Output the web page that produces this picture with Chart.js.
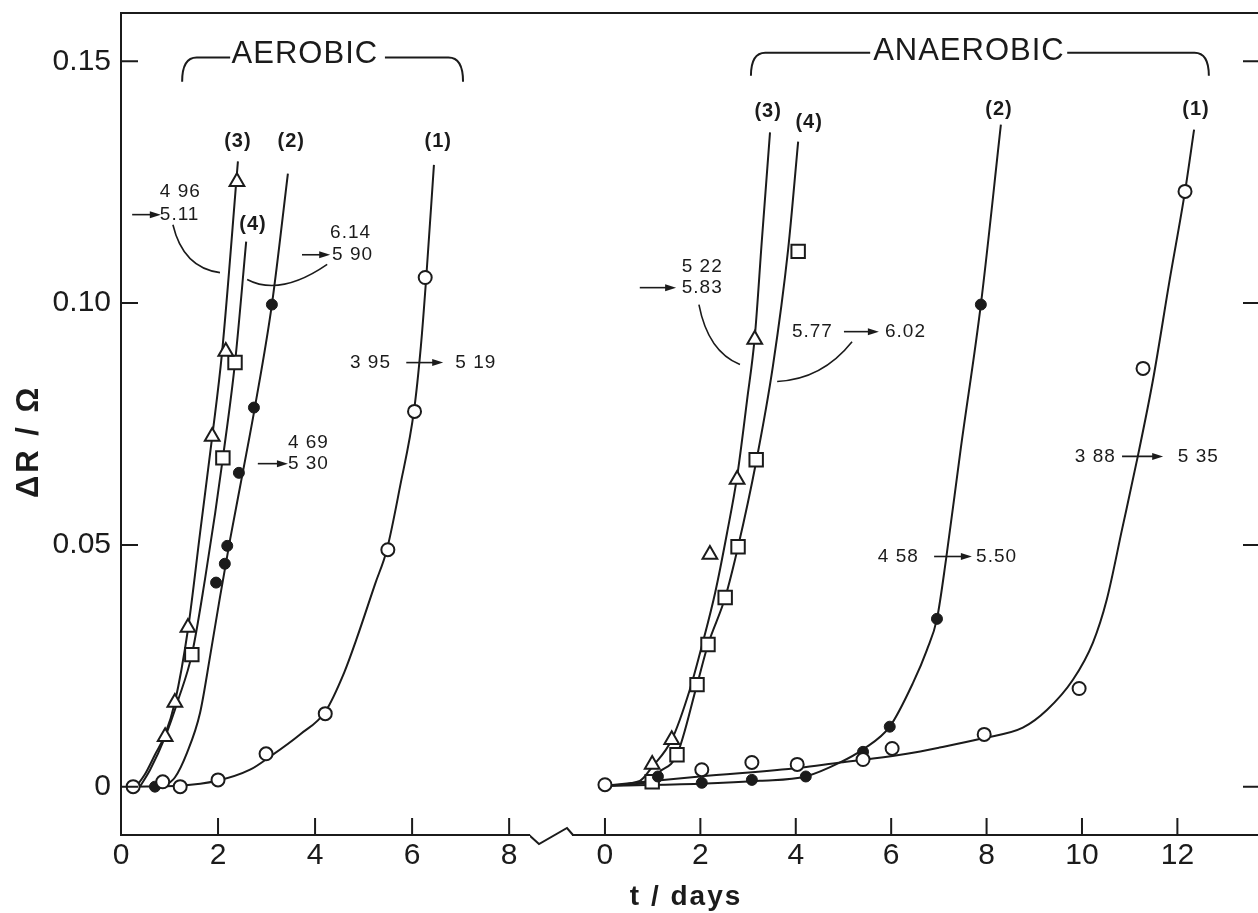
<!DOCTYPE html>
<html>
<head>
<meta charset="utf-8">
<title>ΔR / Ω against t / days</title>
<script src="https://cdn.jsdelivr.net/npm/chart.js@4.4.1/dist/chart.umd.min.js"></script>
<style>
  html, body { margin: 0; padding: 0; background: #fff; }
  #page { position: relative; width: 1258px; height: 913px; overflow: hidden; background: #fff; }
  canvas { position: absolute; top: 0; }
  #aero { left: 0; }
  #anaero { left: 530px; }
</style>
</head>
<body>
<div id="page">
  <canvas id="aero" width="530" height="913"></canvas>
  <canvas id="anaero" width="728" height="913"></canvas>
</div>
<script>
// axis ticks
var yTicks = [0, 0.05, 0.10, 0.15];
var yTickLabels = ['0', '0.05', '0.10', '0.15'];
var aeroTicksX = [0, 2, 4, 6, 8];
var anaeroTicksX = [0, 2, 4, 6, 8, 10, 12];

// aerobic: measured points [days, dR] and drawn curves
var aero1Pts = [[0.25, 0], [0.86, 0.001], [1.22, 0], [2.0, 0.0014], [2.99, 0.0068], [4.21, 0.0151], [5.50, 0.049], [6.05, 0.0776], [6.27, 0.1053]];
var aero1Fit = [[0.25, 0], [1.22, 0.0002], [1.98, 0.0012], [2.66, 0.0035], [3.07, 0.0062], [3.69, 0.0108], [4.21, 0.0155], [4.60, 0.0236], [4.85, 0.0304], [5.24, 0.042], [5.48, 0.049], [5.75, 0.062], [6.04, 0.0778], [6.18, 0.091], [6.29, 0.1051], [6.45, 0.1286]];
var aero2Pts = [[0.70, 0], [1.96, 0.0422], [2.14, 0.0461], [2.19, 0.0498], [2.43, 0.0649], [2.74, 0.0784], [3.11, 0.0997]];
var aero2Fit = [[0.60, 0], [0.91, 0.0004], [1.11, 0.0019], [1.36, 0.007], [1.63, 0.0153], [1.84, 0.0272], [2.04, 0.0392], [2.25, 0.0512], [2.52, 0.0655], [2.76, 0.0785], [3.11, 0.0997], [3.44, 0.1268]];
var aero3Pts = [[0.91, 0.0103], [1.11, 0.0174], [1.38, 0.0329], [1.88, 0.0724], [2.16, 0.09], [2.39, 0.1251]];
var aero3Fit = [[0.31, 0], [0.49, 0.0025], [0.70, 0.0066], [0.91, 0.0108], [1.11, 0.0174], [1.38, 0.0325], [1.63, 0.0525], [1.88, 0.0724], [2.08, 0.0895], [2.41, 0.1293]];
var aero4Pts = [[1.46, 0.0273], [2.10, 0.068], [2.35, 0.0877]];
var aero4Fit = [[0.39, 0], [0.60, 0.0035], [0.91, 0.0103], [1.18, 0.018], [1.46, 0.0273], [1.73, 0.0428], [1.94, 0.0565], [2.10, 0.068], [2.35, 0.0877], [2.58, 0.1127]];

// anaerobic
var anaero1Pts = [[0, 0.0004], [2.03, 0.0035], [3.08, 0.005], [4.03, 0.0046], [5.41, 0.0056], [6.02, 0.0079], [7.95, 0.0108], [9.94, 0.0203], [11.28, 0.0865], [12.16, 0.1231]];
var anaero1Fit = [[0, 0.0002], [1.99, 0.0021], [4.09, 0.0039], [4.93, 0.005], [5.62, 0.0058], [6.33, 0.0068], [7.02, 0.0081], [7.92, 0.01], [8.76, 0.0122], [9.27, 0.0159], [9.81, 0.0221], [10.23, 0.0298], [10.52, 0.0387], [10.84, 0.0532], [11.17, 0.0683], [11.49, 0.0842], [11.84, 0.1049], [12.16, 0.1231], [12.35, 0.1359]];
var anaero2Pts = [[1.11, 0.0021], [2.03, 0.0008], [3.08, 0.0014], [4.21, 0.0021], [5.41, 0.0072], [5.97, 0.0124], [6.96, 0.0347], [7.88, 0.0997]];
var anaero2Fit = [[0, 0.0002], [1.99, 0.0006], [3.25, 0.0012], [4.21, 0.0021], [4.93, 0.005], [5.41, 0.0077], [5.97, 0.0124], [6.46, 0.0215], [6.75, 0.0283], [6.96, 0.0347], [7.15, 0.047], [7.46, 0.070], [7.88, 0.0997], [8.30, 0.1369]];
var anaero3Pts = [[0.99, 0.0046], [1.40, 0.0097], [2.20, 0.048], [2.77, 0.0635], [3.14, 0.0925]];
var anaero3Fit = [[0, 0.0002], [0.73, 0.0012], [0.99, 0.0041], [1.40, 0.0097], [1.78, 0.0201], [2.05, 0.0298], [2.31, 0.0401], [2.56, 0.0525], [2.77, 0.0641], [2.98, 0.08], [3.14, 0.0929], [3.29, 0.1131], [3.46, 0.1353]];
var anaero4Pts = [[0.99, 0.001], [1.51, 0.0066], [1.93, 0.0211], [2.16, 0.0294], [2.52, 0.0391], [2.79, 0.0496], [3.17, 0.0676], [4.05, 0.1107]];
var anaero4Fit = [[0, 0.0002], [0.84, 0.0008], [1.15, 0.0031], [1.51, 0.0066], [1.93, 0.0211], [2.16, 0.0294], [2.52, 0.0391], [2.79, 0.0496], [3.17, 0.0672], [3.52, 0.0869], [3.84, 0.1111], [4.05, 0.1334]];

var INK = '#1b1b1b';
var FONT = '"Liberation Sans", Arial, sans-serif';
var TICK_LEN = 17;
var AXIS_H = 78;

Chart.defaults.font.family = FONT;
Chart.defaults.color = INK;

var MARK = {
  ring: { pointStyle: 'circle', pointRadius: 6.5, pointBackgroundColor: '#fff', pointBorderColor: INK, pointBorderWidth: 2 },
  dot: { pointStyle: 'circle', pointRadius: 5.5, pointBackgroundColor: INK, pointBorderColor: INK, pointBorderWidth: 1 },
  tri: { pointStyle: 'triangle', pointRadius: 8.5, pointBackgroundColor: '#fff', pointBorderColor: INK, pointBorderWidth: 2 },
  box: { pointStyle: 'rect', pointRadius: 9.5, pointBackgroundColor: '#fff', pointBorderColor: INK, pointBorderWidth: 2 },
};

function toXY(pairs) {
  return pairs.map(function (p) { return { x: p[0], y: p[1] }; });
}

function seriesPair(fit, pts, mark) {
  var markers = Object.assign({ data: toXY(pts), showLine: false, order: 0 }, mark);
  var curve = {
    data: toXY(fit),
    showLine: true,
    pointRadius: 0,
    borderColor: INK,
    borderWidth: 2,
    fill: false,
    cubicInterpolationMode: 'monotone',
    order: 1,
  };
  return [markers, curve];
}

function xScale(min, max, ticks) {
  return {
    type: 'linear',
    min: min,
    max: max,
    afterBuildTicks: function (s) { s.ticks = ticks.map(function (v) { return { value: v }; }); },
    afterFit: function (s) {
      s.height = AXIS_H;
      s.paddingLeft = 0;
      s.paddingRight = 0;
    },
    grid: { display: false, drawTicks: false },
    border: { display: true, color: INK, width: 2 },
    ticks: { color: INK, font: { size: 30 }, padding: 3, maxRotation: 0, autoSkip: false,
      callback: function (v) { return String(v); } },
  };
}

function yScale(show) {
  return {
    type: 'linear',
    min: -0.01,
    max: 0.16,
    display: show,
    afterBuildTicks: function (s) { s.ticks = yTicks.map(function (v) { return { value: v }; }); },
    afterFit: function (s) {
      s.width = show ? 121 : 0;
      s.paddingTop = 0;
      s.paddingBottom = 0;
    },
    grid: { display: false, drawTicks: false },
    border: { display: true, color: INK, width: 2 },
    ticks: { color: INK, font: { size: 30 }, padding: 10,
      callback: function (v, i) { return yTickLabels[i]; } },
  };
}

// frame, inward ticks and the axis break
var framePlugin = {
  id: 'frame',
  afterDraw: function (chart, args, opts) {
    var ctx = chart.ctx, a = chart.chartArea, x = chart.scales.x, y = chart.scales.y;
    ctx.save();
    ctx.strokeStyle = INK;
    ctx.lineWidth = 2;
    ctx.beginPath();
    ctx.moveTo(a.left - (opts.topFrom || 0), a.top);
    ctx.lineTo(a.right, a.top);
    opts.xTicks.forEach(function (v) {
      var p = x.getPixelForValue(v);
      ctx.moveTo(p, a.bottom);
      ctx.lineTo(p, a.bottom - TICK_LEN);
    });
    var left = opts.ySide === 'left';
    var edge = left ? a.left : a.right;
    var len = left ? TICK_LEN : -15;
    yTicks.forEach(function (v) {
      var p = y.getPixelForValue(v);
      ctx.moveTo(edge, p);
      ctx.lineTo(edge + len, p);
    });
    if (opts.axisBreak) {
      ctx.moveTo(a.left - 44, a.bottom);
      ctx.lineTo(a.left - 34, a.bottom + 9);
      ctx.lineTo(a.left - 6, a.bottom - 7);
      ctx.lineTo(a.left, a.bottom);
    }
    ctx.stroke();
    ctx.restore();
  },
};

function arrowHead(ctx, x, y) {
  ctx.beginPath();
  ctx.moveTo(x + 2, y);
  ctx.lineTo(x - 9, y - 3.5);
  ctx.lineTo(x - 9, y + 3.5);
  ctx.closePath();
  ctx.fill();
}

// labels, pH arrows and leader curves
var notesPlugin = {
  id: 'notes',
  afterDraw: function (chart, args, o) {
    var ctx = chart.ctx, a = chart.chartArea, x = chart.scales.x, y = chart.scales.y;
    function P(p) { return [x.getPixelForValue(p[0]), y.getPixelForValue(p[1])]; }
    ctx.save();
    ctx.fillStyle = INK;
    ctx.strokeStyle = INK;
    ctx.textBaseline = 'middle';

    if (o.bracket) {
      var b = o.bracket;
      ctx.lineWidth = 2;
      ctx.beginPath();
      var s = P([b.left, b.low]), c = P([b.left, b.high]), e = P([b.left + b.r, b.high]);
      ctx.moveTo(s[0], s[1]);
      ctx.quadraticCurveTo(c[0], c[1], e[0], e[1]);
      var g = P([b.gapFrom, b.high]);
      ctx.lineTo(g[0], g[1]);
      g = P([b.gapTo, b.high]);
      ctx.moveTo(g[0], g[1]);
      e = P([b.right - b.r, b.high]); c = P([b.right, b.high]); s = P([b.right, b.low]);
      ctx.lineTo(e[0], e[1]);
      ctx.quadraticCurveTo(c[0], c[1], s[0], s[1]);
      ctx.stroke();
    }

    ctx.font = '31px ' + FONT;
    ctx.letterSpacing = '1px';
    ctx.textAlign = 'center';
    (o.heads || []).forEach(function (t) { var p = P(t.at); ctx.fillText(t.text, p[0], p[1]); });

    ctx.font = 'bold 20px ' + FONT;
    ctx.letterSpacing = '1px';
    (o.tags || []).forEach(function (t) { var p = P(t.at); ctx.fillText(t.text, p[0], p[1]); });

    ctx.font = '19px ' + FONT;
    ctx.letterSpacing = '1px';
    ctx.textAlign = 'left';
    (o.nums || []).forEach(function (t) { var p = P(t.at); ctx.fillText(t.text, p[0], p[1]); });

    ctx.lineWidth = 1.6;
    (o.arrows || []).forEach(function (ar) {
      var p0 = P(ar[0]), p1 = P(ar[1]);
      ctx.beginPath();
      ctx.moveTo(p0[0], p0[1]);
      ctx.lineTo(p1[0] - 6, p1[1]);
      ctx.stroke();
      arrowHead(ctx, p1[0], p1[1]);
    });
    (o.arcs || []).forEach(function (ar) {
      var p0 = P(ar[0]), pc = P(ar[1]), p1 = P(ar[2]);
      ctx.beginPath();
      ctx.moveTo(p0[0], p0[1]);
      ctx.quadraticCurveTo(pc[0], pc[1], p1[0], p1[1]);
      ctx.stroke();
    });

    if (o.yTitle) {
      ctx.save();
      ctx.translate(o.yTitle.x, y.getPixelForValue(o.yTitle.at));
      ctx.rotate(-Math.PI / 2);
      ctx.font = 'bold 31px ' + FONT;
      ctx.letterSpacing = '3px';
      ctx.textAlign = 'center';
      ctx.fillText(o.yTitle.text, 0, 0);
      ctx.restore();
    }
    if (o.xTitle) {
      ctx.font = 'bold 28px ' + FONT;
      ctx.letterSpacing = '2px';
      ctx.textAlign = 'center';
      ctx.fillText(o.xTitle.text, x.getPixelForValue(o.xTitle.at), a.bottom + o.xTitle.below);
    }
    ctx.restore();
  },
};

var aeroNotes = {
  heads: [{ text: 'AEROBIC', at: [3.79, 0.1514] }],
  bracket: { left: 1.26, right: 7.05, low: 0.1458, high: 0.1508, gapFrom: 2.25, gapTo: 5.44, r: 0.3 },
  tags: [
    { text: '(3)', at: [2.41, 0.1334] }, { text: '(2)', at: [3.51, 0.1334] },
    { text: '(1)', at: [6.54, 0.1334] }, { text: '(4)', at: [2.72, 0.1162] },
  ],
  nums: [
    { text: '4 96', at: [0.80, 0.1231] }, { text: '5.11', at: [0.80, 0.1183] },
    { text: '6.14', at: [4.31, 0.1146] }, { text: '5 90', at: [4.35, 0.110] },
    { text: '3 95', at: [4.72, 0.0877] }, { text: '5 19', at: [6.89, 0.0877] },
    { text: '4 69', at: [3.44, 0.0711] }, { text: '5 30', at: [3.44, 0.0668] },
  ],
  arrows: [
    [[0.23, 0.1183], [0.78, 0.1183]], [[3.73, 0.110], [4.27, 0.110]],
    [[5.88, 0.0877], [6.60, 0.0877]], [[2.82, 0.0668], [3.40, 0.0668]],
  ],
  arcs: [
    [[1.07, 0.1162], [1.28, 0.1073], [2.04, 0.1063]],
    [[2.60, 0.1049], [3.28, 0.1013], [4.25, 0.108]],
  ],
  yTitle: { text: 'ΔR / Ω', x: 29, at: 0.0714 },
};

var anaeroNotes = {
  heads: [{ text: 'ANAEROBIC', at: [7.63, 0.152] }],
  bracket: { left: 3.06, right: 12.66, low: 0.147, high: 0.1518, gapFrom: 5.56, gapTo: 9.69, r: 0.3 },
  tags: [
    { text: '(3)', at: [3.42, 0.1396] }, { text: '(4)', at: [4.28, 0.1373] },
    { text: '(2)', at: [8.26, 0.14] }, { text: '(1)', at: [12.39, 0.14] },
  ],
  nums: [
    { text: '5 22', at: [1.61, 0.1075] }, { text: '5.83', at: [1.61, 0.1032] },
    { text: '5.77', at: [3.92, 0.0941] }, { text: '6.02', at: [5.87, 0.0941] },
    { text: '4 58', at: [5.72, 0.0476] }, { text: '5.50', at: [7.78, 0.0476] },
    { text: '3 88', at: [9.85, 0.0683] }, { text: '5 35', at: [12.01, 0.0683] },
  ],
  arrows: [
    [[0.73, 0.1032], [1.45, 0.1032]], [[5.01, 0.0941], [5.70, 0.0941]],
    [[6.90, 0.0476], [7.65, 0.0476]], [[10.84, 0.0683], [11.66, 0.0683]],
  ],
  arcs: [
    [[1.97, 0.0997], [2.16, 0.09], [2.83, 0.0873]],
    [[5.18, 0.092], [4.55, 0.0842], [3.61, 0.0838]],
  ],
  xTitle: { text: 't / days', at: 1.7, below: 62 },
};

function makeChart(id, datasets, xs, showY, padLeft, frameOpts, notes) {
  return new Chart(document.getElementById(id), {
    type: 'scatter',
    data: { datasets: datasets },
    options: {
      responsive: false,
      animation: false,
      events: [],
      layout: { autoPadding: false, padding: { top: 13, left: padLeft, right: 0, bottom: 0 } },
      scales: { x: xs, y: yScale(showY) },
      plugins: {
        legend: { display: false },
        tooltip: { enabled: false },
        frame: frameOpts,
        notes: notes,
      },
    },
    plugins: [framePlugin, notesPlugin],
  });
}

makeChart('aero',
  [].concat(
    seriesPair(aero1Fit, aero1Pts, MARK.ring),
    seriesPair(aero2Fit, aero2Pts, MARK.dot),
    seriesPair(aero3Fit, aero3Pts, MARK.tri),
    seriesPair(aero4Fit, aero4Pts, MARK.box)
  ),
  xScale(0, 8.43, aeroTicksX), true, 0,
  { xTicks: aeroTicksX, ySide: 'left' }, aeroNotes);

makeChart('anaero',
  [].concat(
    seriesPair(anaero1Fit, anaero1Pts, MARK.ring),
    seriesPair(anaero2Fit, anaero2Pts, MARK.dot),
    seriesPair(anaero3Fit, anaero3Pts, MARK.tri),
    seriesPair(anaero4Fit, anaero4Pts, MARK.box)
  ),
  xScale(-0.67, 13.69, anaeroTicksX), false, 43,
  { xTicks: anaeroTicksX, ySide: 'right', topFrom: 43, axisBreak: true }, anaeroNotes);
</script>
</body>
</html>
